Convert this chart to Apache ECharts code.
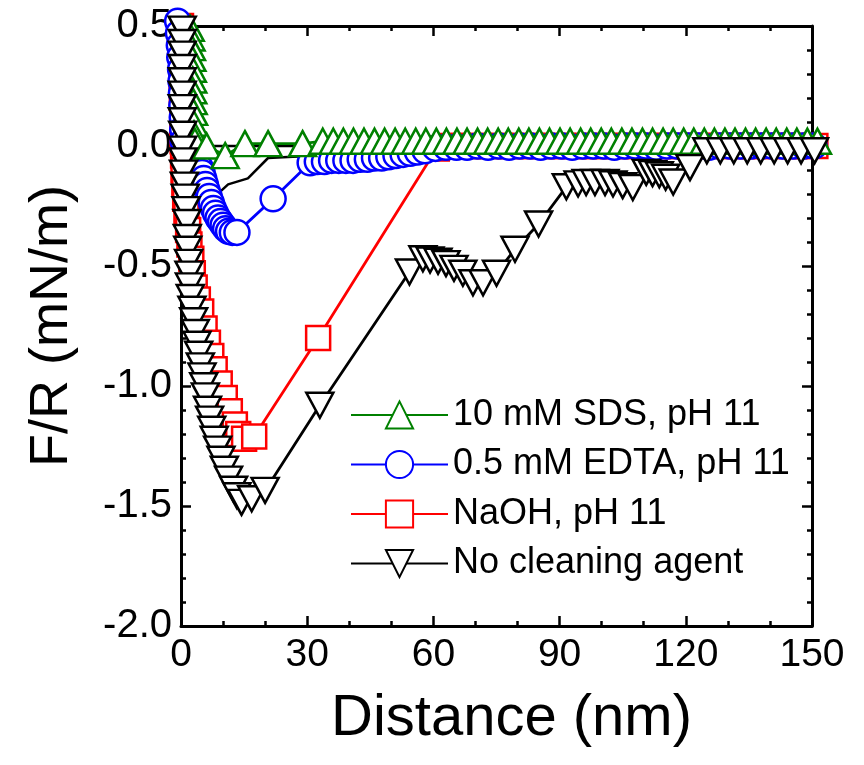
<!DOCTYPE html>
<html>
<head>
<meta charset="utf-8">
<script src="https://cdn.jsdelivr.net/npm/echarts@6/dist/echarts.min.js"></script>
<style>
html,body{margin:0;padding:0;background:#fff;}
#chart{width:864px;height:765px;}
</style>
</head>
<body>
<div id="chart"></div>
<script>
// ---- data ----
const xTicks = [0, 30, 60, 90, 120, 150];
const yTicks = [-2.0, -1.5, -1.0, -0.5, 0.0, 0.5];
const seriesNames = ['10 mM SDS, pH 11', '0.5 mM EDTA, pH 11', 'NaOH, pH 11', 'No cleaning agent'];

const sdsX = [2.2, 2.4, 2.5, 2.6, 2.7, 2.8, 2.8, 2.9, 3.0, 3.0, 3.1, 3.3, 6.1, 10.5, 15.2, 20.7, 28.9,
  33.7, 36.2, 38.6, 41.0, 43.5, 46.0, 48.4, 50.9, 53.3, 55.8, 58.2, 60.7, 63.1, 65.6, 68.0, 70.5, 72.9,
  75.4, 77.8, 80.3, 82.7, 85.2, 87.6, 90.1, 92.5, 95.0, 97.4, 99.9, 102.3, 104.8, 107.2, 109.7, 112.1,
  114.6, 117.0, 119.5, 121.9, 124.4, 126.8, 129.3, 131.7, 134.2, 136.6, 139.1, 141.5, 144.0, 146.4, 148.9, 151.3];
const sdsY = [0.49, 0.45, 0.41, 0.365, 0.32, 0.275, 0.23, 0.185, 0.14, 0.095, 0.05, 0.02, 0.0, -0.04, 0.01, 0.01, 0.01,
  0.02, 0.02, 0.02, 0.02, 0.02, 0.02, 0.02, 0.02, 0.02, 0.02, 0.02, 0.02, 0.02, 0.02, 0.02, 0.02, 0.02,
  0.02, 0.02, 0.02, 0.02, 0.02, 0.02, 0.02, 0.02, 0.02, 0.02, 0.02, 0.02, 0.02, 0.02, 0.02, 0.02,
  0.02, 0.02, 0.02, 0.02, 0.02, 0.02, 0.02, 0.02, 0.02, 0.02, 0.02, 0.02, 0.02, 0.02, 0.02, 0.02];

const edtaX = [-0.8, -0.6, -0.4, -0.3, -0.1, 0.0, 0.1, 0.2, 0.3, 0.4, 0.5, 1.2, 2.6, 3.8,
  4.6, 5.0, 5.4, 5.8, 6.2, 6.7, 7.2, 7.7, 8.2, 8.8, 9.4, 10.0, 10.6, 11.3, 12.2, 13.3, 21.9, 30.7,
  32.4, 34.1, 35.8, 37.5, 39.2, 40.9, 42.6, 44.3, 46.0, 47.7, 49.4, 51.1, 52.8, 54.5, 56.2, 58.0, 60.5,
  63.0, 65.5, 68.0, 70.5, 73.0, 75.5, 78.0, 80.5, 83.0, 85.5, 88.0, 90.5, 93.0, 95.5, 98.0, 100.5, 103.0,
  105.5, 108.0, 110.5, 113.0, 115.5, 118.0, 120.5, 123.0, 125.5, 128.0, 130.5, 133.0, 135.5, 138.0,
  140.5, 143.0, 145.5, 148.0, 150.5];
const edtaY = [0.52, 0.47, 0.42, 0.37, 0.32, 0.27, 0.22, 0.17, 0.12, 0.07, 0.02, -0.02, -0.05, -0.07,
  -0.09, -0.11, -0.135, -0.16, -0.185, -0.21, -0.235, -0.26, -0.28, -0.30, -0.315, -0.33, -0.345, -0.355, -0.36, -0.36, -0.22, -0.07,
  -0.065, -0.065, -0.06, -0.06, -0.06, -0.06, -0.055, -0.055, -0.05, -0.05, -0.045, -0.04, -0.035, -0.03, -0.025, -0.02, -0.01,
  -0.005, -0.005, -0.005, 0.0, -0.005, 0.0, -0.005, 0.0, 0.0, -0.005, 0.0, 0.0, -0.005, 0.0, 0.0, 0.0, -0.005,
  0.0, 0.0, 0.0, -0.005, 0.0, 0.0, 0.0, 0.0, -0.005, 0.0, 0.0, 0.0, 0.0, 0.0,
  0.0, 0.0, 0.0, 0.0, 0.0];

const naohX = [0.0, 0.0, 0.1, 0.1, 0.2, 0.2, 0.3, 0.3, 0.4, 0.5, 0.6, 0.8, 1.0, 1.3, 1.7, 2.0,
  2.45, 2.8, 3.25, 4.0, 4.8, 5.6, 6.4, 7.2, 8.0, 9.2, 10.4, 11.6, 12.8, 13.6, 15.0, 17.4, 32.6, 60.8,
  63.3, 65.8, 68.3, 70.8, 73.3, 75.8, 78.3, 80.8, 83.3, 85.8, 88.3, 90.8, 93.3, 95.8, 98.3, 100.8,
  103.3, 105.8, 108.3, 110.8, 113.3, 115.8, 118.3, 120.8, 123.3, 125.8, 128.3, 130.8, 133.3, 135.8,
  138.3, 140.8, 143.3, 145.8, 148.3, 150.8];
const naohY = [0.5, 0.44, 0.38, 0.32, 0.26, 0.2, 0.14, 0.08, 0.02, -0.04, -0.1, -0.16, -0.22, -0.28, -0.35, -0.41,
  -0.47, -0.53, -0.59, -0.64, -0.69, -0.76, -0.82, -0.875, -0.93, -0.99, -1.05, -1.105, -1.16, -1.2, -1.22, -1.21, -0.8, -0.01,
  0.0, 0.0, 0.0, 0.0, 0.0, 0.0, 0.0, 0.0, 0.0, 0.0, 0.0, 0.0, 0.0, 0.0, 0.0, 0.0,
  0.0, 0.0, 0.0, 0.0, 0.0, 0.0, 0.0, 0.0, 0.0, 0.0, 0.0, 0.0, 0.0, 0.0,
  0.0, 0.0, 0.0, 0.0, 0.0, 0.0];

const noneX = [0.3, 0.3, 0.3, 0.3, 0.3, 0.3, 0.3, 0.3, 0.4, 0.4, 0.5, 0.6, 0.8, 1.0, 1.2, 1.4,
  1.5, 1.6, 1.8, 1.9, 2.0, 2.2, 2.6, 3.0, 3.4, 3.8, 4.2, 4.6, 5.0, 5.4, 5.8, 6.3, 6.8, 7.3, 7.9,
  8.7, 9.5, 10.3, 11.3, 12.5, 13.3, 14.4, 16.8, 20.0, 33.0, 54.3,
  57.5, 59.2, 61.1, 63.0, 64.9, 67.0, 69.4, 71.8, 75.0, 79.4, 85.0,
  91.6, 94.4, 96.3, 98.4, 100.8, 102.7, 105.0, 107.4, 110.6, 112.1, 113.7, 115.2, 117.0, 121.0,
  125.0, 128.2, 131.4, 134.6, 137.8, 141.0, 144.2, 147.4, 150.6];
const noneY = [0.487, 0.431, 0.383, 0.327, 0.272, 0.216, 0.16, 0.105, 0.049, -0.013, -0.062, -0.113, -0.163, -0.213, -0.265, -0.319,
  -0.381, -0.430, -0.485, -0.534, -0.583, -0.631, -0.680, -0.728, -0.777, -0.826, -0.868, -0.916, -0.958, -0.999, -1.041, -1.097, -1.138, -1.180, -1.222,
  -1.263, -1.305, -1.347, -1.388, -1.430, -1.457, -1.485, -1.47, -1.435, -1.08, -0.525,
  -0.47, -0.475, -0.48, -0.49, -0.51, -0.53, -0.57, -0.57, -0.53, -0.43, -0.325,
  -0.17, -0.158, -0.152, -0.152, -0.152, -0.158, -0.165, -0.173, -0.11, -0.115, -0.12, -0.13, -0.15, -0.09,
  -0.02, -0.02, -0.02, -0.02, -0.02, -0.02, -0.02, -0.02, -0.02];

// thin black trace without markers
const traceX = [4.5, 8.1, 11.2, 15.9, 20.7, 26.6, 35.0];
const traceY = [-0.14, -0.21, -0.16, -0.135, -0.05, -0.045, -0.04];
const zeroX = [6.0, 30.0];
const zeroY = [0.0, 0.0];

// ---- chart ----
const zip = (xs, ys) => xs.map((x, i) => [x, ys[i]]);
const FONT = "'Liberation Sans', Arial, sans-serif";

function markerSeries(name, xs, ys, color, symbol, size, rotate) {
  return {
    name: name, type: 'line', data: zip(xs, ys),
    symbol: symbol, symbolSize: size, symbolRotate: rotate || 0,
    showAllSymbol: true, clip: false,
    lineStyle: { color: color, width: 2.8 },
    itemStyle: { color: '#ffffff', borderColor: color, borderWidth: 2.5 },
    emphasis: { disabled: true }, animation: false
  };
}

const chart = echarts.init(document.getElementById('chart'), null, { renderer: 'canvas' });
const axisCommon = {
  type: 'value', splitLine: { show: false }, minorSplitLine: { show: false },
  axisLine: { show: true, onZero: false, lineStyle: { color: '#000', width: 3 } },
  axisTick: { show: true, inside: true, length: 10, lineStyle: { color: '#000', width: 2.5 } },
  minorTick: { show: true, length: 5, lineStyle: { color: '#000', width: 2.5 } }
};
const option = {
  backgroundColor: '#ffffff',
  animation: false,
  grid: { left: 181, right: 52, top: 26, bottom: 139, containLabel: false },
  legend: {
    data: seriesNames, orient: 'vertical', left: 350, top: 397, padding: 0,
    itemWidth: 97, itemHeight: 34, itemGap: 13.5, selectedMode: false,
    textStyle: { fontSize: 36, color: '#000', fontFamily: FONT }
  },
  xAxis: [
    Object.assign({}, axisCommon, {
      position: 'bottom', min: xTicks[0], max: xTicks[xTicks.length - 1], interval: 30,
      minorTick: Object.assign({}, axisCommon.minorTick, { splitNumber: 3 }),
      axisLabel: { fontSize: 39, color: '#000', fontFamily: FONT, margin: 10 },
      name: 'Distance (nm)', nameLocation: 'middle', nameGap: 64,
      nameTextStyle: { fontSize: 58, color: '#000', fontFamily: FONT, padding: [0, 0, 0, 30] }
    }),
    Object.assign({}, axisCommon, {
      position: 'top', min: xTicks[0], max: xTicks[xTicks.length - 1], interval: 30,
      minorTick: Object.assign({}, axisCommon.minorTick, { splitNumber: 3 }),
      axisLabel: { show: false }
    })
  ],
  yAxis: [
    Object.assign({}, axisCommon, {
      position: 'left', min: yTicks[0], max: yTicks[yTicks.length - 1], interval: 0.5,
      minorTick: Object.assign({}, axisCommon.minorTick, { splitNumber: 5 }),
      axisLabel: { fontSize: 40, color: '#000', fontFamily: FONT, margin: 9,
        formatter: v => v.toFixed(1) },
      name: 'F/R (mN/m)', nameLocation: 'middle', nameGap: 102, nameRotate: 90,
      nameTextStyle: { fontSize: 54, color: '#000', fontFamily: FONT }
    }),
    Object.assign({}, axisCommon, {
      position: 'right', min: yTicks[0], max: yTicks[yTicks.length - 1], interval: 0.5,
      minorTick: Object.assign({}, axisCommon.minorTick, { splitNumber: 5 }),
      axisLabel: { show: false }
    })
  ],
  series: [
    { name: 'trace', type: 'line', data: zip(traceX, traceY), symbol: 'none', clip: false,
      lineStyle: { color: '#000', width: 2.5 }, emphasis: { disabled: true }, animation: false },
    { name: 'trace0', type: 'line', data: zip(zeroX, zeroY), symbol: 'none', clip: false,
      lineStyle: { color: '#000', width: 2.5 }, emphasis: { disabled: true }, animation: false },
    markerSeries(seriesNames[2], naohX, naohY, '#ff0000', 'rect', 24),
    markerSeries(seriesNames[1], edtaX, edtaY, '#0000ff', 'circle', 25),
    markerSeries(seriesNames[0], sdsX, sdsY, '#008000', 'triangle', [27, 25]),
    markerSeries(seriesNames[3], noneX, noneY, '#000000', 'triangle', [27, 25], 180)
  ]
};
chart.setOption(option);
</script>
</body>
</html>
